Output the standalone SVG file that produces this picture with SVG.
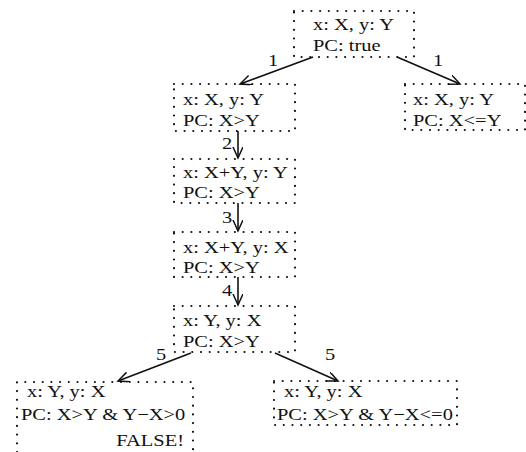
<svg xmlns="http://www.w3.org/2000/svg" width="526" height="452" viewBox="0 0 526 452">
<defs>
<style>
.box{fill:none;stroke:#111;stroke-width:2.2;stroke-dasharray:0 8.7;stroke-linecap:round}
.t{font-family:"Liberation Serif","Times New Roman",serif;font-size:16.5px;fill:#111}
.c{stroke:#111;stroke-width:1.6;fill:none}
</style>
<marker id="ah" markerUnits="userSpaceOnUse" markerWidth="14" markerHeight="12" refX="11" refY="5" orient="auto">
<path d="M0,0 L11,5 L0,10" fill="none" stroke="#111" stroke-width="1.5"/>
</marker>
</defs>
<rect width="526" height="452" fill="#fff"/>
<g id="connectors">
<line class="c" x1="313" y1="57" x2="240" y2="84" marker-end="url(#ah)"/>
<text class="t" transform="translate(268,66) scale(1.24,1)">1</text>
<line class="c" x1="397" y1="57" x2="460" y2="84" marker-end="url(#ah)"/>
<text class="t" transform="translate(433,66) scale(1.24,1)">1</text>
<line class="c" x1="238" y1="131" x2="238" y2="158" marker-end="url(#ah)"/>
<text class="t" transform="translate(222,149) scale(1.24,1)">2</text>
<line class="c" x1="238" y1="203" x2="238" y2="231" marker-end="url(#ah)"/>
<text class="t" transform="translate(222,223) scale(1.24,1)">3</text>
<line class="c" x1="238" y1="277" x2="238" y2="305" marker-end="url(#ah)"/>
<text class="t" transform="translate(222,296) scale(1.24,1)">4</text>
<line class="c" x1="191" y1="353" x2="118" y2="381" marker-end="url(#ah)"/>
<text class="t" transform="translate(156,360) scale(1.24,1)">5</text>
<line class="c" x1="275" y1="353" x2="338" y2="381" marker-end="url(#ah)"/>
<text class="t" transform="translate(325,360) scale(1.24,1)">5</text>
</g>
<g id="n0">
<rect class="box" x="294" y="11" width="120" height="46"/>
<text class="t" transform="translate(313,30) scale(1.24,1)">x: X, y: Y</text>
<text class="t" transform="translate(313,51) scale(1.24,1)">PC: true</text>
</g>
<g id="n1r">
<rect class="box" x="405" y="84" width="120" height="46"/>
<text class="t" transform="translate(413,105) scale(1.24,1)">x: X, y: Y</text>
<text class="t" transform="translate(413,126) scale(1.24,1)">PC: X&lt;=Y</text>
</g>
<g id="n1l">
<rect class="box" x="174" y="84" width="121" height="47"/>
<text class="t" transform="translate(183,105) scale(1.24,1)">x: X, y: Y</text>
<text class="t" transform="translate(183,126) scale(1.24,1)">PC: X&gt;Y</text>
</g>
<g id="n2">
<rect class="box" x="174" y="159" width="121" height="44"/>
<text class="t" transform="translate(183,178) scale(1.24,1)">x: X+Y, y: Y</text>
<text class="t" transform="translate(183,198) scale(1.24,1)">PC: X&gt;Y</text>
</g>
<g id="n3">
<rect class="box" x="174" y="232" width="121" height="45"/>
<text class="t" transform="translate(183,253) scale(1.24,1)">x: X+Y, y: X</text>
<text class="t" transform="translate(183,273) scale(1.24,1)">PC: X&gt;Y</text>
</g>
<g id="n4">
<rect class="box" x="174" y="306" width="121" height="46"/>
<text class="t" transform="translate(183,326) scale(1.24,1)">x: Y, y: X</text>
<text class="t" transform="translate(183,347) scale(1.24,1)">PC: X&gt;Y</text>
</g>
<g id="n5l">
<path class="box" d="M17,452 V382 H193 V452"/>
<text class="t" transform="translate(27,397) scale(1.24,1)">x: Y, y: X</text>
<text class="t" transform="translate(21,420) scale(1.24,1)">PC: X&gt;Y &amp; Y−X&gt;0</text>
<text class="t" text-anchor="end" transform="translate(184,446) scale(1.24,1)">FALSE!</text>
</g>
<g id="n5r">
<path class="box" d="M274,381 H457 V425 H274 Z"/>
<text class="t" transform="translate(284,397) scale(1.24,1)">x: Y, y: X</text>
<text class="t" transform="translate(277,420) scale(1.24,1)">PC: X&gt;Y &amp; Y−X&lt;=0</text>
</g>
</svg>
